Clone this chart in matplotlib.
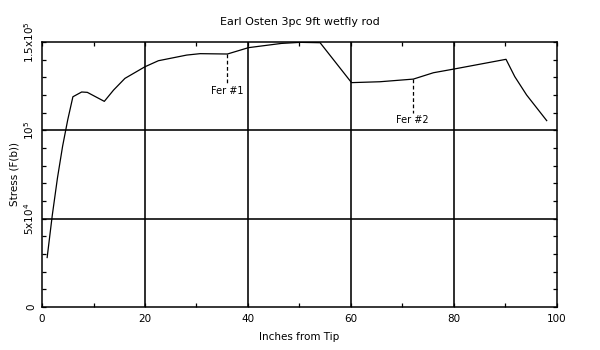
import matplotlib
matplotlib.use('Agg')
import matplotlib.pyplot as plt
from matplotlib.ticker import MultipleLocator, FixedLocator

# inches from tip / stress
inches = [1, 2, 3, 4, 5, 6, 7.7, 8.8, 12.1, 13.9, 16.1, 20, 22.6, 28.1, 30.7,
          36, 40.1, 46.5, 50.1, 54, 60.1, 65.6, 72.1, 76, 80, 90.1, 91.8,
          94.1, 98]
stress = [28000, 52000, 73000, 91000, 106000, 119000, 121700, 121500, 116400,
          122800, 129400, 136000, 139400, 142600, 143400, 143200, 146800,
          149200, 149800, 149600, 127000, 127500, 129000, 132600, 134700,
          140200, 130400, 120000, 105500]

ferrules = [36, 72]
ferrule_tops = [143200, 129000]
ferrule_bottoms = [125700, 109600]
ferrule_labels = ['Fer #1', 'Fer #2']

y_ticks = [0, 50000, 100000, 150000]
y_ticklabels = ['0', '5x10$^4$', '10$^5$', '1.5x10$^5$']
x_ticks = [0, 20, 40, 60, 80, 100]

plt.rcParams['font.family'] = 'DejaVu Sans'
fig = plt.figure(figsize=(6, 3.5), dpi=100)
ax = fig.add_axes([42 / 600, 1 - 307 / 350, 515 / 600, 265 / 350])

for x in [20, 40, 60, 80]:
    ax.axvline(x, color='black', linewidth=1.15)
for y in [50000, 100000]:
    ax.axhline(y, color='black', linewidth=1.15)

ax.plot(inches, stress, color='black', linewidth=0.9)

for x, top, bot, lab in zip(ferrules, ferrule_tops, ferrule_bottoms, ferrule_labels):
    ax.plot([x, x], [top, bot], color='black', linewidth=0.9, linestyle=(0, (3, 2)))
    ax.text(x, bot - 800, lab, ha='center', va='top', fontsize=7)

ax.set_xlim(0, 100)
ax.set_ylim(0, 150000)
ax.set_xticks(x_ticks)
ax.set_xticklabels([str(v) for v in x_ticks], fontsize=7.5)
ax.xaxis.set_minor_locator(FixedLocator([10, 30, 50, 70, 90]))
ax.set_yticks(y_ticks)
ax.set_yticklabels(y_ticklabels, fontsize=7.5, rotation=90, va='center')
ax.yaxis.set_minor_locator(MultipleLocator(10000))
ax.tick_params(which='both', direction='in', top=True, right=True,
               length=3, width=0.9)
ax.tick_params(axis='x', pad=5)
ax.tick_params(axis='y', pad=4)
for s in ax.spines.values():
    s.set_linewidth(1.1)

ax.set_xlabel('Inches from Tip', fontsize=7.5, labelpad=6)
ax.set_ylabel('Stress (F(b))', fontsize=7.5, labelpad=2)
ax.set_title('Earl Osten 3pc 9ft wetfly rod', fontsize=8, pad=12)

fig.savefig('out.png', dpi=100)
